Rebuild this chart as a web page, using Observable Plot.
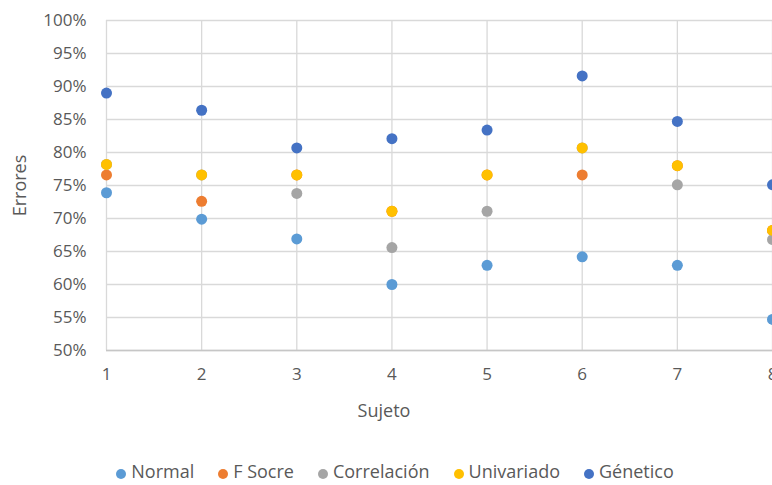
<!DOCTYPE html>
<html>
<head>
<meta charset="utf-8">
<script src="https://cdn.jsdelivr.net/npm/d3@7"></script>
<script src="https://cdn.jsdelivr.net/npm/@observablehq/plot@0.6"></script>
<style>
  html, body { margin: 0; padding: 0; background: #fff; overflow: hidden; }
  #wrap { position: relative; width: 772px; height: 485px; font-family: "Open Sans", sans-serif; color: #595959; }
  #chart { position: absolute; left: 0; top: 0; }
  #xlabel { position: absolute; left: 384px; top: 398px; transform: translateX(-50%); font-size: 18px; line-height: 24px; white-space: nowrap; }
  #legend { position: absolute; left: 0; width: 790px; top: 459px; display: flex; justify-content: center; gap: 24px; font-size: 18px; line-height: 24px; }
  .item { display: flex; align-items: baseline; white-space: nowrap; }
  .swatch { width: 10px; height: 10px; border-radius: 50%; margin-right: 5px; display: inline-block; position: relative; top: 1px; }
</style>
</head>
<body>
<div id="wrap">
  <div id="chart"></div>
  <div id="xlabel">Sujeto</div>
  <div id="legend"></div>
</div>
<script>
// Error rate per subject for each feature-selection method
const sujetos = [1, 2, 3, 4, 5, 6, 7, 8];
const series = ["Normal", "F Socre", "Correlación", "Univariado", "Génetico"];
const colores = ["#5B9BD5", "#ED7D31", "#A5A5A5", "#FFC000", "#4472C4"];

const normal      = [0.739, 0.699, 0.669, 0.600, 0.629, 0.642, 0.629, 0.547];
const fSocre      = [0.766, 0.726, 0.766, 0.711, 0.766, 0.766, 0.780, 0.682];
const correlacion = [0.782, 0.766, 0.738, 0.656, 0.711, 0.807, 0.751, 0.668];
const univariado  = [0.782, 0.766, 0.766, 0.711, 0.766, 0.807, 0.780, 0.682];
const genetico    = [0.890, 0.864, 0.807, 0.821, 0.834, 0.916, 0.847, 0.751];

const yTicks = [0.50, 0.55, 0.60, 0.65, 0.70, 0.75, 0.80, 0.85, 0.90, 0.95, 1.00];

const valores = [normal, fSocre, correlacion, univariado, genetico];
const data = series.flatMap((s, i) =>
  sujetos.map((x, j) => ({serie: s, sujeto: x, error: valores[i][j]}))
);

const chart = Plot.plot({
  width: 772,
  height: 395,
  marginLeft: 106,
  marginRight: 0,
  marginTop: 20,
  marginBottom: 45,
  style: {fontFamily: "Open Sans, sans-serif", fontSize: "17px", color: "#595959", overflow: "visible"},
  x: {domain: [1, 8], ticks: sujetos},
  y: {domain: [0.5, 1], ticks: yTicks},
  color: {domain: series, range: colores},
  marks: [
    Plot.gridY(yTicks, {stroke: "#d9d9d9", strokeOpacity: 1, strokeWidth: 1.3}),
    Plot.gridX(sujetos, {stroke: "#d9d9d9", strokeOpacity: 1, strokeWidth: 1.3}),
    Plot.ruleY([0.5], {stroke: "#c6c6c6", strokeWidth: 1.5}),
    Plot.axisY(yTicks, {tickSize: 0, tickPadding: 20, tickFormat: d3.format(".0%"), fill: "#595959",
      label: null, fontSize: 17}),
    Plot.axisY([], {label: "Errores", labelAnchor: "center", labelArrow: "none", labelOffset: 93,
      fill: "#595959", fontSize: 18}),
    Plot.axisX(sujetos, {tickSize: 0, tickPadding: 17, fill: "#595959", label: null, fontSize: 17}),
    Plot.dot(data, {x: "sujeto", y: "error", fill: "serie", r: 5.5})
  ]
});
document.getElementById("chart").appendChild(chart);

// Legend below the chart
const legend = d3.select("#legend");
series.forEach((s, i) => {
  const item = legend.append("div").attr("class", "item");
  item.append("span").attr("class", "swatch").style("background", colores[i]);
  item.append("span").text(s);
});
</script>
</body>
</html>
